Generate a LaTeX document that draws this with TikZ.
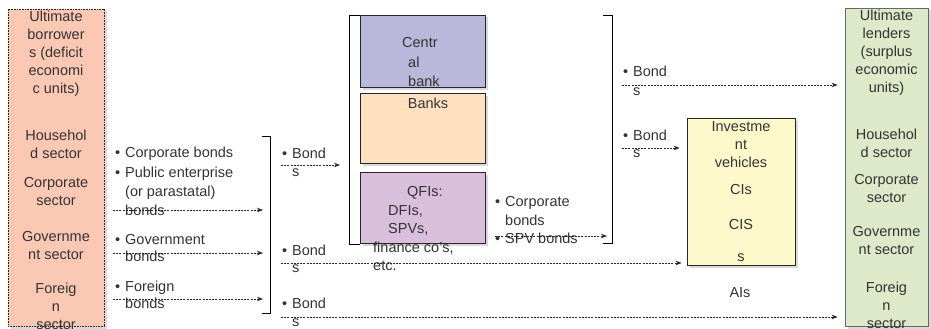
\documentclass[tikz,border=0pt]{standalone}
\usepackage{fontspec}
\setmainfont{Liberation Sans}
\usetikzlibrary{arrows.meta,shadows}
\definecolor{txt}{HTML}{333333}
\definecolor{lbfill}{HTML}{FBC8B4}
\definecolor{rbfill}{HTML}{DEE9CA}
\definecolor{cbfill}{HTML}{BBB7DB}
\definecolor{bkfill}{HTML}{FFE0BF}
\definecolor{qffill}{HTML}{D9BFDC}
\definecolor{ivfill}{HTML}{FEF9CB}
\newcommand\bul{\makebox[10pt][l]{•}}
\newcommand\ind{\hspace*{10pt}}
\begin{document}
\begin{tikzpicture}[x=1pt,y=-1pt,
  font=\fontsize{14.5}{18}\selectfont, text=txt,
  box/.style={draw=black!85, line width=0.8pt, inner sep=0,
    drop shadow={shadow xshift=2.5pt, shadow yshift=-2.5pt, opacity=0.3}},
  lbl/.style={inner sep=0, align=center},
  itm/.style={inner sep=0, align=left, anchor=west, font=\fontsize{14.5}{18.5}\selectfont},
  flow/.style={draw=black!85, line width=0.7pt, dash pattern=on 2pt off 1.2pt,
    -{Stealth[length=6pt,width=4.5pt]}},
  brk/.style={draw=black, line width=0.8pt}]
\useasboundingbox (0,0) rectangle (931,329);

% ---- boxes
\node[box, fill=lbfill, dash pattern=on 0.8pt off 0.8pt, minimum width=96pt, minimum height=317pt] (lb) at (56,167.5) {};
\node[box, draw=black!60, fill=rbfill, minimum width=83pt, minimum height=318pt] (rb) at (886.5,167) {};
\node[box, fill=cbfill, minimum width=125pt, minimum height=72pt] (cb) at (422.5,51) {};
\node[box, fill=bkfill, minimum width=125pt, minimum height=70pt] (bk) at (422.5,128) {};
\node[box, fill=qffill, minimum width=125pt, minimum height=71pt] (qf) at (422.5,207.5) {};
\node[box, fill=ivfill, minimum width=108pt, minimum height=147pt] (iv) at (741,191.5) {};

% ---- brackets
\coordinate (brL) at (270,0);
\coordinate (brC) at (349,0);
\coordinate (brR) at (612,0);
\draw[brk] (262,136) -- (270,136) -- (270,313) -- (262,313);
\draw[brk] (360,15) -- (349,15) -- (349,244) -- (360,244);
\draw[brk] (603,15) -- (612,15) -- (612,243) -- (603,243);

% ---- left box text
\node[lbl] (lt1) at (56,54) {Ultimate\\borrower\\s (deficit\\economi\\c units)};
\node[lbl] (lt2) at (56,144.5) {Househol\\d sector};
\node[lbl] (lt3) at (56,191.5) {Corporate\\sector};
\node[lbl] (lt4) at (56,245.5) {Governme\\nt sector};
\node[lbl] (lt5) at (56,306) {Foreig\\n\\sector};

% ---- right box text
\node[lbl] (rt1) at (886.5,52.5) {Ultimate\\lenders\\(surplus\\economic\\units)};
\node[lbl] (rt2) at (886.5,143) {Househol\\d sector};
\node[lbl] (rt3) at (886.5,188.5) {Corporate\\sector};
\node[lbl] (rt4) at (886.5,241) {Governme\\nt sector};
\node[lbl] (rt5) at (886.5,305) {Foreig\\n\\sector};

% ---- central texts
\node[itm, font=\fontsize{14.5}{19.5}\selectfont] (cbt) at (402,62.5) {Centr\\\hspace*{6pt}al\\\hspace*{6pt}bank};
\node[lbl] (bkt) at (428,103) {Banks};
\node[itm] (qft) at (373,229) {\hspace*{34pt}QFIs:\\\hspace*{15pt}DFIs,\\\hspace*{15pt}SPVs,\\finance co's,\\etc.};

% ---- investment vehicles
\node[lbl] (ivt1) at (741,144.5) {Investme\\nt\\vehicles};
\node[lbl] (ivt2) at (741,190) {CIs};
\node[lbl] (ivt3) at (741,241) {CIS\\[14pt]s};
\node[lbl] (ais) at (740,293) {AIs};

% ---- bullet lists
\node[itm] (li1) at (115,154) {\bul Corporate bonds};
\node[itm, font=\fontsize{14.5}{19}\selectfont] (li2) at (115,191) {\bul Public enterprise\\\ind(or parastatal)\\\ind bonds};
\node[itm, font=\fontsize{14.5}{17}\selectfont] (li3) at (115,248.5) {\bul Government\\\ind bonds};
\node[itm, font=\fontsize{14.5}{17}\selectfont] (li4) at (115,294.5) {\bul Foreign\\\ind bonds};

\node[itm] (bd1) at (282,162.5) {\bul Bond\\\ind s};
\node[itm, font=\fontsize{14.5}{17}\selectfont] (bd2) at (282,258.5) {\bul Bond\\\ind s};
\node[itm] (bd3) at (282,312.5) {\bul Bond\\\ind s};
\node[itm] (bd4) at (623,81) {\bul Bond\\\ind s};
\node[itm, font=\fontsize{14.5}{17}\selectfont] (bd5) at (623,143.5) {\bul Bond\\\ind s};
\node[itm] (cpb) at (495,220.5) {\bul Corporate\\\ind bonds\\\bul SPV bonds};

% ---- connectors
\coordinate (s1) at (113,210);
\coordinate (s2) at (113,253);
\coordinate (s3) at (113,299);
\coordinate (s4) at (281,165);
\coordinate (s5) at (281,263);
\coordinate (s6) at (281,317);
\coordinate (s7) at (495,236);
\coordinate (s8) at (622,85);
\coordinate (s9) at (622,148);
\draw[flow, shorten >=7pt] (s1) -- (s1 -| brL);
\draw[flow, shorten >=7pt] (s2) -- (s2 -| brL);
\draw[flow, shorten >=7pt] (s3) -- (s3 -| brL);
\draw[flow, shorten >=9pt] (s4) -- (s4 -| brC);
\draw[flow, shorten >=5pt] (s5) -- (s5 -| iv.west);
\draw[flow, shorten >=7pt] (s6) -- (s6 -| rb.west);
\draw[flow, shorten >=5pt] (s7) -- (s7 -| brR);
\draw[flow, shorten >=7pt] (s8) -- (s8 -| rb.west);
\draw[flow, shorten >=7pt] (s9) -- (s9 -| iv.west);
\end{tikzpicture}
\end{document}
